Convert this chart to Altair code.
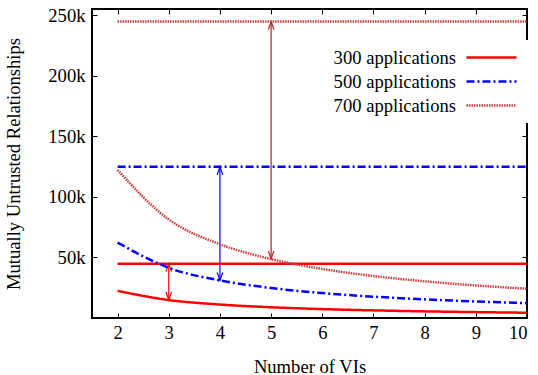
import altair as alt
import pandas as pd

vis = [2, 3, 4, 5, 6, 7, 8, 9, 10]
series = ["300 applications", "500 applications", "700 applications"]
totals = [44850, 124750, 244650]
split_300 = [22350, 14850, 11100, 8850, 7350, 6280, 5475, 4850, 4350]
split_500 = [62250, 41420, 31000, 24750, 20580, 17610, 15375, 13640, 12250]
split_700 = [122150, 81320, 60900, 48650, 40480, 34650, 30275, 26870, 24150]
splits = [split_300, split_500, split_700]
arrow_x = [3, 4, 5]
y_ticks = [50000, 100000, 150000, 200000, 250000]

line_colors = ["#ff0000", "#0000ff", "#c83c3c"]
arrow_colors = ["#ff0000", "#0000ff", "#a52a2a"]
dashes = [[1, 0], [8, 3, 2, 3], [1.5, 1]]

rows = []
for i, s in enumerate(series):
    for j, x in enumerate(vis):
        rows.append({"x": x, "y": totals[i], "series": s, "kind": "total"})
        rows.append({"x": x, "y": splits[i][j], "series": s, "kind": "split"})
lines_df = pd.DataFrame(rows)

arows = []
for i, s in enumerate(series):
    ax = arrow_x[i]
    arows.append({"x": ax, "top": totals[i], "bottom": splits[i][vis.index(ax)],
                  "acolor": arrow_colors[i]})
arrows_df = pd.DataFrame(arows)

FONT = "Liberation Serif"
FS = 18.6

xscale = alt.Scale(domain=[1.5, 10], nice=False, zero=False)
yscale = alt.Scale(domain=[0, 255000], nice=False)
xaxis = alt.Axis(values=vis, title="Number of VIs", format="d")
yaxis = alt.Axis(values=y_ticks, labelExpr="datum.value/1000 + 'k'",
                 title="Mutually Untrusted Relationships")
xaxis_top = alt.Axis(values=vis, orient="top", labels=False, title=None, grid=False)
yaxis_right = alt.Axis(values=y_ticks, orient="right", labels=False, title=None, grid=False)

leg = alt.Legend(title=None, orient="none", legendX=382, legendY=31,
                 symbolType="M -2.78 0 L 2.78 0", symbolSize=324, symbolStrokeWidth=2.5,
                 labelAlign="right", labelOffset={"expr": "-46"}, labelFontSize=FS,
                 labelFont=FONT, fillColor="white", padding=7, rowPadding=3,
                 labelLimit=300, labelColor="black")

lines = alt.Chart(lines_df).mark_line(strokeWidth=2.5, interpolate="monotone").encode(
    x=alt.X("x:Q", scale=xscale, axis=xaxis),
    y=alt.Y("y:Q", scale=yscale, axis=yaxis),
    color=alt.Color("series:N", scale=alt.Scale(domain=series, range=line_colors), legend=leg),
    strokeDash=alt.StrokeDash("series:N", scale=alt.Scale(domain=series, range=dashes), legend=leg),
    detail="kind:N",
)

base = alt.Chart(arrows_df)
rule = base.mark_rule(strokeWidth=1.2).encode(
    x=alt.X("x:Q", scale=xscale, axis=xaxis_top),
    y=alt.Y("top:Q", scale=yscale, axis=yaxis_right), y2="bottom:Q",
    stroke=alt.Stroke("acolor:N", scale=None),
)
heads = alt.layer(
    base.mark_point(shape="M -0.35 1 L 0 0 L 0.35 1", size=256, filled=False,
                    strokeWidth=1.2, opacity=1).encode(
        x=alt.X("x:Q", scale=xscale, axis=None),
        y=alt.Y("top:Q", scale=yscale, axis=None),
        stroke=alt.Stroke("acolor:N", scale=None),
    ),
    base.mark_point(shape="M -0.35 -1 L 0 0 L 0.35 -1", size=256, filled=False,
                    strokeWidth=1.2, opacity=1).encode(
        x=alt.X("x:Q", scale=xscale, axis=None),
        y=alt.Y("bottom:Q", scale=yscale, axis=None),
        stroke=alt.Stroke("acolor:N", scale=None),
    ),
)

chart = alt.layer(rule, heads, lines).resolve_axis(x="independent", y="independent").properties(
    width=435, height=309,
    padding={"left": 92, "top": 9, "right": 11, "bottom": 57},
    autosize=alt.AutoSizeParams(type="none"),
).configure(
    font=FONT
).configure_view(
    stroke="black", strokeWidth=2
).configure_axis(
    labelFont=FONT, titleFont=FONT, labelFontSize=FS, titleFontSize=FS,
    titleFontWeight="normal", labelColor="black", titleColor="black",
    domain=False, ticks=True, tickSize={"expr": "-5"}, tickColor="black", tickWidth=1,
    grid=True, gridColor="#444", gridDash=[1, 2], gridWidth=1, gridOpacity=1,
).configure_axisX(
    labelBaseline="alphabetic", labelPadding=25,
    titleX=217.5, titleY=54, titleBaseline="alphabetic", titleAlign="center",
).configure_axisY(
    labelAlign="right", labelBaseline="middle", labelPadding=12,
    titleX=-73, titleY=154.5, titleBaseline="alphabetic", titleAlign="center", titleAngle=-90,
).configure_legend(
    labelFont=FONT
)

chart.save("out.html", embed_options={"renderer": "svg", "actions": False})
